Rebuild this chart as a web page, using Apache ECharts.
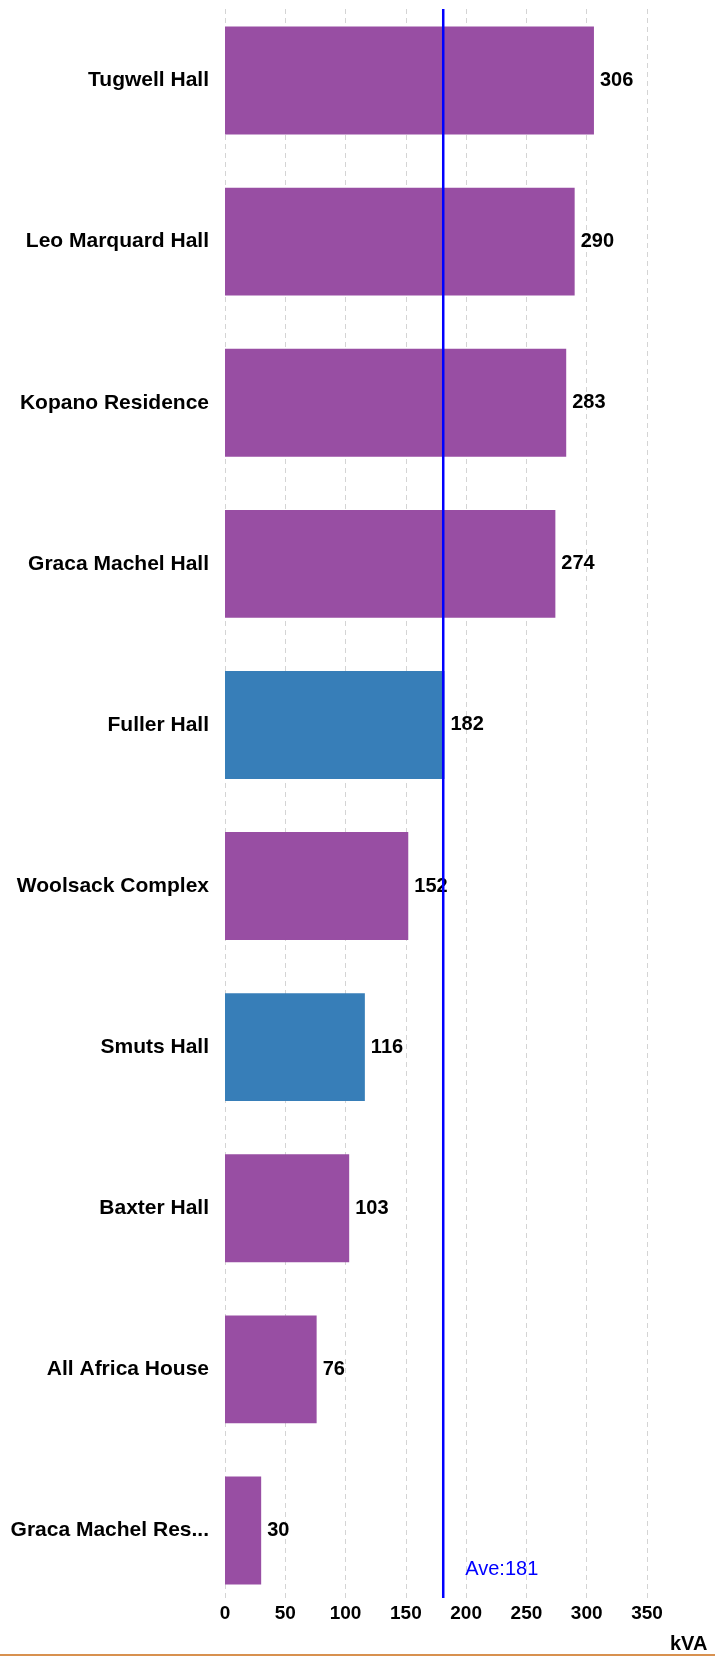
<!DOCTYPE html>
<html>
<head>
<meta charset="UTF-8">
<title>kVA by residence</title>
<style>html,body{margin:0;height:100%;background:#fff}</style>
</head>
<body>
<div id="container" style="width:715px;height:1657px"></div>
<script src="https://cdn.jsdelivr.net/npm/echarts@6/dist/echarts.min.js"></script>
<script>
var halls = ['Tugwell Hall', 'Leo Marquard Hall', 'Kopano Residence', 'Graca Machel Hall', 'Fuller Hall',
    'Woolsack Complex', 'Smuts Hall', 'Baxter Hall', 'All Africa House', 'Graca Machel Res...'];
var kva = [306, 290, 283, 274, 182, 152, 116, 103, 76, 30];
var highlighted = ['Fuller Hall', 'Smuts Hall'];
var average = 181;
var xTicks = [0, 50, 100, 150, 200, 250, 300, 350];

var font = 'Liberation Sans, Arial, sans-serif';
var chart = echarts.init(document.getElementById('container'));

var barData = kva.map(function (v, i) {
    return {
        value: v,
        itemStyle: { color: highlighted.indexOf(halls[i]) >= 0 ? '#377EB8' : '#984EA3' }
    };
});

var option = {
    animation: false,
    grid: [
        { left: 225, right: 68, top: -5, height: 1616 },
        { left: 225, right: 68, top: 9, height: 1589 }
    ],
    xAxis: [
        { gridIndex: 0, type: 'value', min: 0, max: 350, show: false },
        {
            gridIndex: 1, type: 'value', min: xTicks[0], max: xTicks[xTicks.length - 1], interval: 50,
            axisLine: { show: false }, axisTick: { show: false },
            splitLine: { show: true, lineStyle: { color: '#d4d4d4', type: [5, 4], width: 1 } },
            axisLabel: { color: '#000', fontWeight: 'bold', fontSize: 19, fontFamily: font, margin: 6 },
            name: 'kVA', nameLocation: 'end', nameGap: 23,
            nameTextStyle: { color: '#000', fontWeight: 'bold', fontSize: 20, fontFamily: font,
                verticalAlign: 'top', padding: [36, 0, 0, 0] }
        }
    ],
    yAxis: [
        {
            gridIndex: 0, type: 'category', data: halls, inverse: true,
            axisLine: { show: false }, axisTick: { show: false },
            axisLabel: { color: '#000', fontWeight: 'bold', fontSize: 21, fontFamily: font, margin: 16 }
        },
        { gridIndex: 1, type: 'value', min: 0, max: 1, show: false }
    ],
    series: [
        {
            type: 'bar', xAxisIndex: 0, yAxisIndex: 0, data: barData, barWidth: '67%',
            label: { show: true, position: 'right', distance: 6, color: '#000',
                fontWeight: 'bold', fontSize: 20, fontFamily: font }
        },
        {
            type: 'line', xAxisIndex: 1, yAxisIndex: 1, symbol: 'circle', symbolSize: 0,
            showSymbol: true, silent: true, z: 5,
            lineStyle: { color: '#0000FF', width: 2.5 },
            label: {
                show: true, position: 'right', offset: [17, -29], color: '#0000FF',
                fontSize: 20, fontFamily: font,
                formatter: function (p) { return p.dataIndex === 0 ? 'Ave:' + average : ''; }
            },
            data: [[average, 0], [average, 1]]
        }
    ],
    graphic: [
        { type: 'line', shape: { x1: 0, y1: 1655, x2: 715, y2: 1655 },
          style: { stroke: '#D8914F', lineWidth: 2 } }
    ]
};
chart.setOption(option);
</script>
</body>
</html>
